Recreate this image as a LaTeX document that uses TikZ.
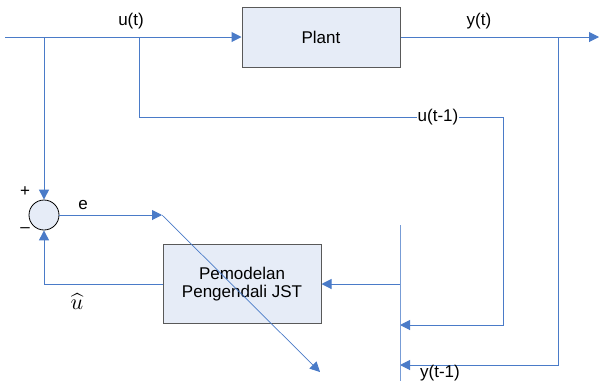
\documentclass[tikz,border=0pt]{standalone}
\usepackage{fontspec}
\setmainfont{Liberation Sans}
\usetikzlibrary{arrows.meta, positioning}
\definecolor{linie}{HTML}{4A7BC8}
\definecolor{kasten}{HTML}{E6ECF7}
\tikzset{
    x=1pt, y=-1pt,
    schrift/.style={font=\fontsize{17}{20}\selectfont},
    block/.style={ % Kasten fuer Plant und Modell
        draw=black!65,
        fill=kasten,
        line width=1pt,
        align=center,
        schrift
    },
    sum/.style={circle, draw=black, fill=kasten, line width=0.8pt,
        minimum size=30pt, inner sep=0pt},
    signal/.style={draw=linie, line width=1pt},
    pfeil/.style={signal, -{Triangle[length=10pt,width=10pt]}},
    beschrift/.style={schrift, inner sep=1pt}
}
\begin{document}
\begin{tikzpicture}
    \useasboundingbox (0,0) rectangle (599,381);
    % bloecke
    \node[block, minimum width=158pt, minimum height=60pt] (plant) at (321,37) {Plant};
    \node[block, minimum width=158pt, minimum height=79pt] (jst)   at (242,284)
        {Pemodelan\\[-2pt]Pengendali JST};
    \node[sum] (sum) at (44,215) {};
    % hilfspunkte
    \coordinate (ein)       at (5,37);
    \coordinate (abzw1)     at (44,37);
    \coordinate (abzw2)     at (139,37);
    \coordinate (abzw3)     at (558,37);
    \coordinate (aus)       at (599,37);
    \coordinate (ecke u)    at (503,117);
    \coordinate (bus oben)  at (400,225);
    \coordinate (bus unten) at (400,381);
    \coordinate (bus u)     at (400,325);
    \coordinate (bus y)     at (400,365);
    \coordinate (bus jst)   at (bus oben |- jst.east);
    \coordinate (e ende)    at (162,215);
    \coordinate (diag ende) at (320,372);

    % verbindungen
    \draw[pfeil] (ein) -- (plant.west);
    \draw[pfeil] (plant.east) -- (aus);
    \draw[pfeil] (abzw1) -- (sum.north);
    \draw[pfeil] (abzw2) |- (ecke u) |- (bus u);
    \draw[pfeil] (abzw3) |- (bus y);
    \draw[signal, draw=linie!75] (bus oben) -- (bus unten);
    \draw[pfeil] (bus jst) -- (jst.east);
    \draw[pfeil] (jst.west) -| (sum.south);
    \draw[pfeil] (sum.east) -- (e ende);
    \draw[pfeil, line width=0.7pt] (e ende) -- (diag ende);

    % beschriftungen
    \node[beschrift]               (ut)   at (131,21)  {u(t)};
    \node[beschrift]               (yt)   at (479,21)  {y(t)};
    \node[beschrift, fill=white]   (ut1)  at (438,117) {u(t-1)};
    \node[beschrift]               (yt1)  at (440,373) {y(t-1)};
    \node[beschrift]               (e)    at (83,205)  {e};
    \node[inner sep=0pt] (uhat) at (77,302) {\scalebox{2.2}{$\widehat{u}$}};
    \node[beschrift]               (plus) at (25,192)  {+};
    \node[beschrift]               (minus) at (25,230) {--};
\end{tikzpicture}
\end{document}
